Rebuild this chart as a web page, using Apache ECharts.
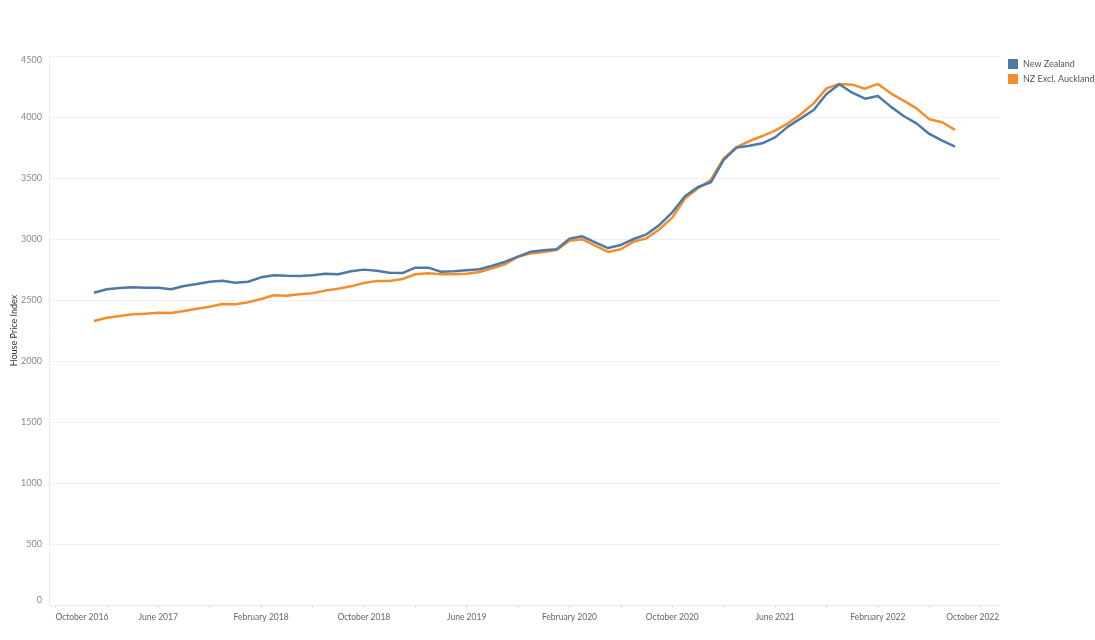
<!DOCTYPE html>
<html>
<head>
<meta charset="utf-8">
<script src="https://cdn.jsdelivr.net/npm/echarts@6/dist/echarts.min.js"></script>
<style>
html,body{margin:0;padding:0;background:#fff;}
#chart{width:1095px;height:640px;}
</style>
</head>
<body>
<div id="chart"></div>
<script>
// Axis months: October 2016 .. November 2022 (monthly)
const monthNames = ["January","February","March","April","May","June","July","August","September","October","November","December"];
const axisStart = {year: 2016, month: 9};   // October 2016
const axisMonthCount = 74;                  // to November 2022
const dataStartOffset = 3;                  // data begins January 2017

const tickLabels = ["October 2016","June 2017","February 2018","October 2018","June 2019",
  "February 2020","October 2020","June 2021","February 2022","October 2022"];

const yTicks = [0,500,1000,1500,2000,2500,3000,3500,4000,4500];

// Monthly House Price Index, January 2017 .. August 2022
const newZealand = [
  2560, 2588, 2598, 2604, 2601, 2601, 2588, 2615, 2631, 2650, 2658, 2642,
  2650, 2686, 2703, 2699, 2697, 2702, 2716, 2711, 2735, 2749, 2740, 2724,
  2721, 2765, 2765, 2732, 2735, 2744, 2752, 2781, 2814, 2855, 2896, 2907,
  2916, 3003, 3022, 2973, 2926, 2951, 3000, 3038, 3115, 3219, 3353, 3426,
  3465, 3648, 3749, 3764, 3784, 3833, 3921, 3989, 4057, 4189, 4268, 4199,
  4150, 4172, 4085, 4008, 3948, 3861, 3806, 3757
];
const nzExclAuckland = [
  2328, 2355, 2369, 2383, 2388, 2396, 2394, 2410, 2429, 2445, 2467, 2465,
  2481, 2508, 2539, 2535, 2547, 2556, 2577, 2593, 2612, 2639, 2656, 2656,
  2672, 2711, 2719, 2711, 2711, 2716, 2730, 2760, 2793, 2855, 2882, 2894,
  2910, 2986, 2997, 2945, 2894, 2916, 2978, 3006, 3080, 3175, 3334, 3416,
  3484, 3661, 3754, 3803, 3844, 3888, 3948, 4022, 4112, 4235, 4271, 4265,
  4232, 4271, 4194, 4134, 4071, 3981, 3957, 3894
];

const months = [];
for (let i = 0; i < axisMonthCount; i++) {
  const m = (axisStart.month + i) % 12;
  const y = axisStart.year + Math.floor((axisStart.month + i) / 12);
  months.push(monthNames[m] + " " + y);
}
function pad(arr) {
  const out = new Array(axisMonthCount).fill(null);
  arr.forEach((v, i) => { out[dataStartOffset + i] = v; });
  return out;
}

const font = "Lato, 'Open Sans', sans-serif";
const chart = echarts.init(document.getElementById('chart'));
chart.setOption({
  animation: false,
  backgroundColor: '#ffffff',
  textStyle: {fontFamily: font},
  legend: {
    orient: 'vertical',
    left: 1008,
    top: 59,
    padding: 0,
    itemWidth: 10,
    itemHeight: 10,
    itemGap: 5,
    icon: 'rect',
    textStyle: {fontSize: 9, color: '#555', fontFamily: font},
    data: ['New Zealand', 'NZ Excl. Auckland']
  },
  grid: {left: 49, right: 95, top: 56, bottom: 35, containLabel: false, outerBoundsMode: 'none'},
  xAxis: {
    type: 'category',
    data: months,
    boundaryGap: true,
    axisLine: {show: true, lineStyle: {color: '#e8e8e8', width: 1}},
    axisTick: {show: true, alignWithLabel: true, interval: 3, length: 3, lineStyle: {color: '#e0e0e0'}},
    axisLabel: {
      interval: function (idx, val) { return tickLabels.indexOf(val) >= 0; },
      color: '#666',
      fontSize: 8.5,
      margin: 8,
      fontFamily: font,
      alignMinLabel: 'left',
      formatter: function (val) {
        return val === tickLabels[tickLabels.length - 1] ? '{last|' + val + '}' : val;
      },
      rich: {last: {padding: [0, 16, 0, 0], color: '#666', fontSize: 8.5, fontFamily: font}}
    },
    splitLine: {show: false}
  },
  yAxis: {
    type: 'value',
    min: 0,
    max: 4500,
    interval: 500,
    name: 'House Price Index',
    nameLocation: 'middle',
    nameGap: 30,
    nameRotate: 90,
    nameMoveOverlap: false,
    nameTextStyle: {fontSize: 9, color: '#333', fontFamily: font},
    axisLine: {show: true, lineStyle: {color: '#ececec'}},
    axisTick: {show: false},
    axisLabel: {
      color: '#888', fontSize: 9, margin: 7, fontFamily: font,
      verticalAlignMaxLabel: 'top',
      verticalAlignMinLabel: 'bottom',
      formatter: function (v) { return yTicks.indexOf(v) >= 0 ? String(v) : ''; }
    },
    splitLine: {show: true, lineStyle: {color: '#f0f0f0', width: 1}}
  },
  series: [
    {
      name: 'New Zealand',
      type: 'line',
      data: pad(newZealand),
      showSymbol: false,
      symbol: 'none',
      smooth: false,
      z: 3,
      itemStyle: {color: '#4e79a7'},
      lineStyle: {color: '#4e79a7', width: 2.5}
    },
    {
      name: 'NZ Excl. Auckland',
      type: 'line',
      data: pad(nzExclAuckland),
      showSymbol: false,
      symbol: 'none',
      smooth: false,
      z: 2,
      itemStyle: {color: '#f28e2b'},
      lineStyle: {color: '#f28e2b', width: 2.5}
    }
  ]
});
</script>
</body>
</html>
